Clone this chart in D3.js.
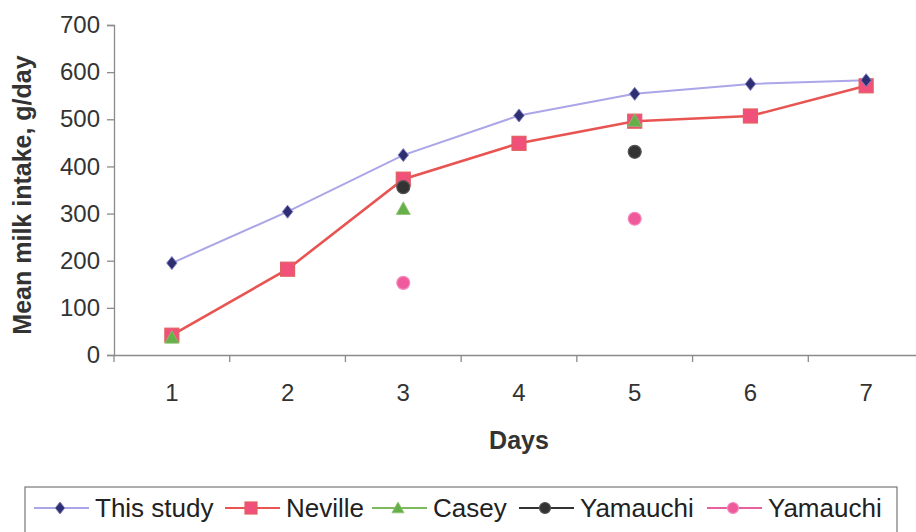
<!DOCTYPE html>
<html><head><meta charset="utf-8">
<script src="https://cdn.jsdelivr.net/npm/d3@7/dist/d3.min.js"></script>
<style>body{margin:0;background:#fff}svg{display:block;font-family:Arial,"Liberation Sans",sans-serif}</style>
</head><body><svg id="c" width="916" height="532"></svg>
<script>
const days = ["1","2","3","4","5","6","7"];
const yTicks = [0,100,200,300,400,500,600,700];
const thisStudy = [195,304,424,508,554,575,583];
const neville = [42,182,373,449,496,507,571];
const casey = [37,null,310,null,497,null,null];
const yamauchiA = [null,null,356,null,431,null,null];
const yamauchiB = [null,null,153,null,289,null,null];
const legendNames = ["This study","Neville","Casey","Yamauchi","Yamauchi"];

const svg = d3.select("#c");
const x = d3.scaleBand().domain(days).range([114,924]);
const y = d3.scaleLinear().domain([0,700]).range([355,25]);
const cx = d => x(d)+x.bandwidth()/2;
const axisCol = "#8a8a8a";
const FF = "Arial, 'Liberation Sans', sans-serif";

// y axis
const ya = svg.append("g").attr("transform","translate(114,0)")
  .call(d3.axisLeft(y).tickValues(yTicks).tickSize(7).tickPadding(7));
ya.select(".domain").attr("stroke",axisCol).attr("stroke-width",1.3);
ya.selectAll(".tick line").attr("stroke",axisCol).attr("stroke-width",1.3);
ya.selectAll("text").attr("font-size",24).attr("fill","#333").attr("font-family",FF);

// x axis
const xa = svg.append("g").attr("transform","translate(0,355)")
  .call(d3.axisBottom(x).tickSize(0).tickPadding(29));
xa.select(".domain").attr("stroke",axisCol).attr("stroke-width",1.3);
xa.selectAll("text").attr("font-size",24).attr("fill","#333").attr("font-family",FF);
svg.append("g").selectAll("line").data(days).join("line")
  .attr("x1",d=>x(d)).attr("x2",d=>x(d)).attr("y1",355).attr("y2",362)
  .attr("stroke",axisCol).attr("stroke-width",1.3);

// axis titles
svg.append("text").attr("transform","translate(31,195) rotate(-90)").attr("text-anchor","middle")
  .attr("font-size",25).attr("font-weight","bold").attr("fill","#333").text("Mean milk intake, g/day");
svg.append("text").attr("x",519).attr("y",449).attr("text-anchor","middle")
  .attr("font-size",25).attr("font-weight","bold").attr("fill","#333").text("Days");

const line = d3.line().defined(d=>d.v!=null).x(d=>cx(d.k)).y(d=>y(d.v));
const pts = arr => arr.map((v,i)=>({k:days[i],v}));

function diamond(g,px,py,s){
  g.append("path").attr("d",`M${px},${py-s}L${px+s*0.8},${py}L${px},${py+s}L${px-s*0.8},${py}Z`)
   .attr("fill","#2e2e72").attr("stroke","#8080c0").attr("stroke-width",1);
}
function square(g,px,py,s){
  g.append("rect").attr("x",px-s).attr("y",py-s).attr("width",2*s).attr("height",2*s)
   .attr("fill","#f0507a").attr("stroke","#e26060").attr("stroke-width",1.2);
}
function triangle(g,px,py,s){
  g.append("path").attr("d",`M${px},${py-s}L${px+s},${py+s*0.8}L${px-s},${py+s*0.8}Z`)
   .attr("fill","#66b04a").attr("stroke","#8cc070").attr("stroke-width",0.8);
}
function circ(g,px,py,r,fill,stroke){
  g.append("circle").attr("cx",px).attr("cy",py).attr("r",r).attr("fill",fill).attr("stroke",stroke).attr("stroke-width",1.2);
}

const plot = svg.append("g");
plot.append("path").datum(pts(thisStudy)).attr("d",line).attr("fill","none").attr("stroke","#aaa6e8").attr("stroke-width",2);
plot.append("path").datum(pts(neville)).attr("d",line).attr("fill","none").attr("stroke","#e85452").attr("stroke-width",2.6);

pts(neville).forEach(d=>square(plot,cx(d.k),y(d.v),7));
pts(thisStudy).forEach(d=>diamond(plot,cx(d.k),y(d.v),6.5));
pts(casey).filter(d=>d.v!=null).forEach(d=>triangle(plot,cx(d.k),y(d.v),7));
pts(yamauchiA).filter(d=>d.v!=null).forEach(d=>circ(plot,cx(d.k),y(d.v),6.5,"#333333","#555"));
pts(yamauchiB).filter(d=>d.v!=null).forEach(d=>circ(plot,cx(d.k),y(d.v),6.5,"#ee5a9c","#f48cbc"));

// legend
const lg = svg.append("g");
lg.append("rect").attr("x",25).attr("y",487).attr("width",872).attr("height",60)
  .attr("fill","#fff").attr("stroke","#777").attr("stroke-width",1.2);
const legendCols = ["#aaa6e8","#e85452","#7cba5c","#333","#e8609e"];
const legendX = [34,225,372,519,707];
const ly = 508;
legendNames.forEach((n,i)=>{
  const x0 = legendX[i];
  lg.append("line").attr("x1",x0).attr("x2",x0+55).attr("y1",ly).attr("y2",ly).attr("stroke",legendCols[i]).attr("stroke-width",2);
  const mx = x0+26;
  if(i===0) diamond(lg,mx,ly,6);
  if(i===1) square(lg,mx,ly,6);
  if(i===2) triangle(lg,mx,ly,6);
  if(i===3) circ(lg,mx,ly,5.5,"#333","#555");
  if(i===4) circ(lg,mx,ly,5.5,"#ee5a9c","#f48cbc");
  lg.append("text").attr("x",x0+61).attr("y",ly+9).attr("font-size",26).attr("fill","#222").attr("font-family",FF).text(n);
});
</script></body></html>
